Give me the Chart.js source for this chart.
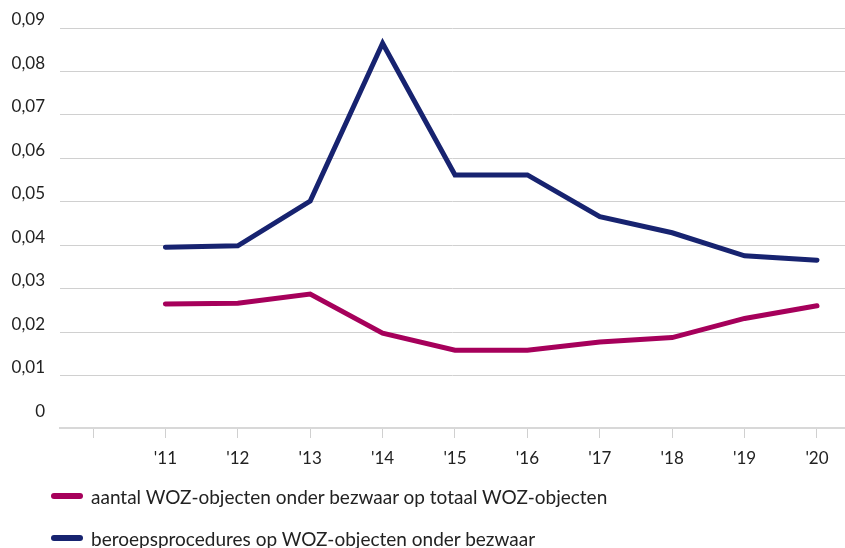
<!DOCTYPE html>
<html>
<head>
<meta charset="utf-8">
<script src="https://cdn.jsdelivr.net/npm/chart.js@4"></script>
<style>
  body { margin: 0; background: #fff; font-family: Lato, "Noto Sans", sans-serif; }
  #wrap { position: relative; width: 845px; height: 548px; }
  #legend { position: absolute; left: 51px; top: 482px; }
  .item { display: flex; align-items: center; height: 28px; margin-bottom: 14px; font-size: 19px; color: #222; }
  .swatch { width: 32px; height: 6px; border-radius: 3px; margin-right: 8px; }
</style>
</head>
<body>
<div id="wrap">
  <canvas id="chart" width="845" height="548"></canvas>
  <div id="legend"></div>
</div>
<script>
// categories (first slot is an empty tick)
const years = ['', "'11", "'12", "'13", "'14", "'15", "'16", "'17", "'18", "'19", "'20"];
const yTicks = [0, 0.01, 0.02, 0.03, 0.04, 0.05, 0.06, 0.07, 0.08, 0.09];

const seriesNames = [
    'aantal WOZ-objecten onder bezwaar op totaal WOZ-objecten',
    'beroepsprocedures op WOZ-objecten onder bezwaar'
];
const seriesColors = ['#a6005b', '#172370'];

// values for '11 .. '20
const bezwaarAandeel = [0.0265, 0.0267, 0.0288, 0.0198, 0.0159, 0.0159, 0.0178, 0.0188, 0.0232, 0.0261];
const beroepAandeel = [0.0396, 0.0399, 0.0502, 0.0865, 0.0562, 0.0562, 0.0466, 0.0429, 0.0376, 0.0366];

function toPoints(values) {
    return values.map((v, i) => ({ x: i + 1, y: v }));
}

const textColor = '#222';
const gridColor = '#d0d0d0';

const ctx = document.getElementById('chart').getContext('2d');

const chart = new Chart(ctx, {
    type: 'line',
    data: {
        datasets: [bezwaarAandeel, beroepAandeel].map((vals, i) => ({
            label: seriesNames[i],
            data: toPoints(vals),
            borderColor: seriesColors[i],
            backgroundColor: seriesColors[i],
            borderWidth: 5,
            borderCapStyle: 'round',
            pointRadius: 0,
            tension: 0,
            fill: false
        }))
    },
    options: {
        responsive: false,
        animation: false,
        devicePixelRatio: 1,
        layout: { padding: { top: 28, left: 0, right: 0, bottom: 70 } },
        plugins: {
            legend: { display: false },
            tooltip: { enabled: false }
        },
        scales: {
            x: {
                type: 'linear',
                min: -0.456,
                max: 10.387,
                afterBuildTicks: scale => {
                    scale.ticks = years.map((_, i) => ({ value: i }));
                },
                afterFit: scale => { scale.height = 50; },
                ticks: {
                    autoSkip: false,
                    maxRotation: 0,
                    padding: 10,
                    color: textColor,
                    font: { family: 'Lato', size: 17 },
                    callback: value => years[value]
                },
                grid: {
                    drawOnChartArea: false,
                    drawTicks: true,
                    tickLength: 10,
                    color: gridColor
                },
                border: { display: true, color: '#d8d8d8', width: 2 }
            },
            y: {
                min: -0.002,
                max: 0.09,
                afterBuildTicks: scale => {
                    scale.ticks = yTicks.map(v => ({ value: v }));
                },
                afterFit: scale => { scale.width = 60; },
                ticks: {
                    padding: 15,
                    labelOffset: -8,
                    color: textColor,
                    font: { family: 'Lato', size: 17 },
                    callback: v => v === 0 ? '0' : v.toFixed(2).replace('.', ',')
                },
                grid: {
                    drawTicks: false,
                    color: c => (c.tick && c.tick.value === 0) ? 'rgba(0,0,0,0)' : gridColor
                },
                border: { display: false }
            }
        }
    }
});

// legend below the chart
const legend = document.getElementById('legend');
seriesNames.forEach((name, i) => {
    const item = document.createElement('div');
    item.className = 'item';
    const sw = document.createElement('span');
    sw.className = 'swatch';
    sw.style.background = seriesColors[i];
    const label = document.createElement('span');
    label.textContent = name;
    item.appendChild(sw);
    item.appendChild(label);
    legend.appendChild(item);
});
</script>
</body>
</html>
